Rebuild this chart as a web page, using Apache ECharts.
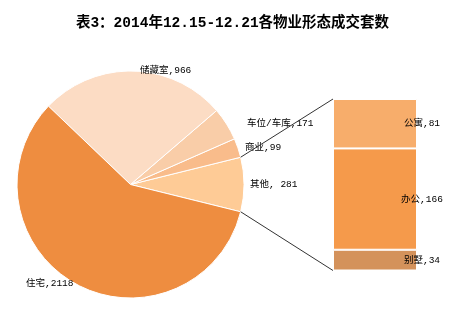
<!DOCTYPE html>
<html><head><meta charset="utf-8">
<script src="https://cdn.jsdelivr.net/npm/echarts@6/dist/echarts.min.js"></script>
<style>html,body{margin:0;padding:0;background:#fff}#c{width:465px;height:321px}</style>
</head><body><div id="c"></div>
<script>
const titleText = '表3：2014年12.15-12.21各物业形态成交套数';
const pieNames = ['其他', '商业', '车位/车库', '储藏室', '住宅'];
const pieValues = [281, 99, 171, 966, 2118];
const pieLabels = ['其他, 281', '商业,99', '车位/车库,171', '储藏室,966', '住宅,2118'];
const barNames = ['别墅', '办公', '公寓'];
const barValues = [34, 166, 81];
const barLabels = ['别墅,34', '办公,166', '公寓,81'];

const pieColors = ['#FECB96', '#F9BC8B', '#F9CDA8', '#FCDCC4', '#EE8D40'];
const barColors = ['#D4925B', '#F59A4B', '#F7AD6B'];
const labelPos = [[250, 184], [245, 147], [247, 123], [140, 70], [26, 283]];
const center = [130.5, 184.5], radius = 113.5;
const font = '"Liberation Mono", "Noto Sans CJK SC", sans-serif';
const total = pieValues.reduce((a, b) => a + b, 0);
const half = pieValues[0] / total * 180;
const barTotal = barValues.reduce((a, b) => a + b, 0);

const chart = echarts.init(document.getElementById('c'));
const option = {
  animation: false,
  title: { text: titleText, left: 'center', top: 11,
    textStyle: { fontFamily: font, fontSize: 14.5, fontWeight: 'bold', color: '#000' } },
  grid: { left: 333, top: 99, width: 84, height: 171.5 },
  xAxis: { type: 'category', data: ['x'], show: false },
  yAxis: { type: 'value', min: 0, max: barTotal, show: false },
  series: [
    { type: 'pie', center: center, radius: radius, clockwise: false,
      startAngle: -half,
      itemStyle: { borderColor: '#fff', borderWidth: 1 },
      label: { show: true, formatter: p => pieLabels[p.dataIndex], overflow: 'none',
        fontFamily: font, fontSize: 9.5, color: '#000' },
      labelLine: { show: false },
      labelLayout: p => ({ x: labelPos[p.dataIndex][0], y: labelPos[p.dataIndex][1], align: 'left', verticalAlign: 'middle', width: 200 }),
      data: pieNames.map((n, i) => ({ name: n, value: pieValues[i], itemStyle: { color: pieColors[i] } }))
    },
    ...barNames.map((n, i) => ({
      type: 'bar', name: n, stack: 's', barWidth: '100%',
      data: [barValues[i]],
      itemStyle: { color: barColors[i], borderColor: '#fff', borderWidth: 1 },
      label: { show: true, position: [89, '50%'], align: 'center', verticalAlign: 'middle',
        formatter: barLabels[i], fontFamily: font, fontSize: 9.5, color: '#000' }
    }))
  ]
};
chart.setOption(option);
// connector lines from the 其他 slice edges to the bar corners
const a = half * Math.PI / 180;
const p1 = [center[0] + radius * Math.cos(a), center[1] - radius * Math.sin(a)];
const p2 = [center[0] + radius * Math.cos(a), center[1] + radius * Math.sin(a)];
const topR = chart.convertToPixel({ gridIndex: 0 }, ['x', barTotal]);
const botR = chart.convertToPixel({ gridIndex: 0 }, ['x', 0]);
const xLeft = 333;
chart.setOption({ graphic: [
  { type: 'line', shape: { x1: p1[0], y1: p1[1], x2: xLeft, y2: topR[1] }, style: { stroke: '#333', lineWidth: 1 }, z: 100 },
  { type: 'line', shape: { x1: p2[0], y1: p2[1], x2: xLeft, y2: botR[1] }, style: { stroke: '#333', lineWidth: 1 }, z: 100 }
]});
</script></body></html>
